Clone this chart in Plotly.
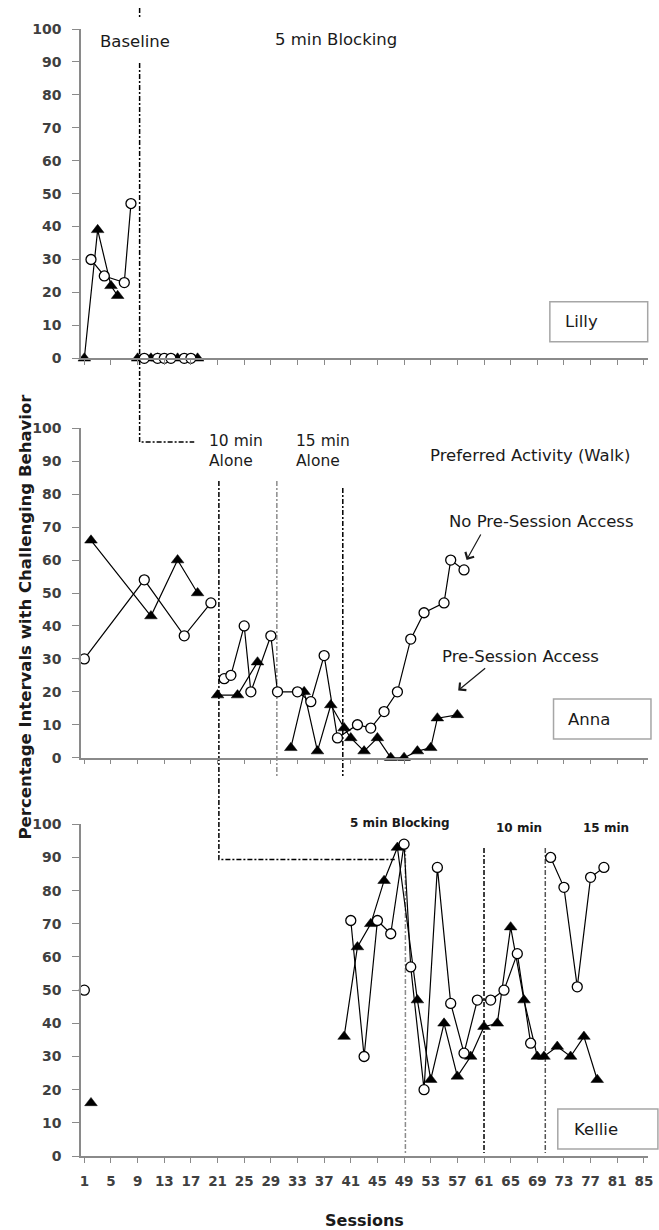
import plotly.graph_objects as go

# ---------------- data ----------------
sessions_ticks_start, sessions_ticks_step = 1, 4

lilly_open_x = [2, 4, 7, 8, None, 10, 12, 13, 14, 16, 17]
lilly_open_y = [30, 25, 23, 47, None, 0, 0, 0, 0, 0, 0]
lilly_fill_x = [1, 3, 5, 6, None, 9, 11, 12, 15, 18]
lilly_fill_y = [0, 39, 22, 19, None, 0, 0, 0, 0, 0]

anna_open_x = [1, 10, 16, 20, None, 22, 23, 25, 26, 29, 30, 33, 35, 37, 39, 42, 44, 46, 48, 50, 52, 55, 56, 58]
anna_open_y = [30, 54, 37, 47, None, 24, 25, 40, 20, 37, 20, 20, 17, 31, 6, 10, 9, 14, 20, 36, 44, 47, 60, 57]
anna_fill_x = [2, 11, 15, 18, None, 21, 24, 27, None, 32, 34, 36, 38, 40, 41, 43, 45, 47, 49, 51, 53, 54, 57]
anna_fill_y = [66, 43, 60, 50, None, 19, 19, 29, None, 3, 20, 2, 16, 9, 6, 2, 6, 0, 0, 2, 3, 12, 13]

kellie_open_x = [1, None, 41, 43, 45, 47, 49, 50, 52, 54, 56, 58, 60, 62, 64, 66, 68, None, 71, 73, 75, 77, 79]
kellie_open_y = [50, None, 71, 30, 71, 67, 94, 57, 20, 87, 46, 31, 47, 47, 50, 61, 34, None, 90, 81, 51, 84, 87]
kellie_fill_x = [2, None, 40, 42, 44, 46, 48, 51, 53, 55, 57, 59, 61, 63, 65, 67, 69, 70, 72, 74, 76, 78]
kellie_fill_y = [16, None, 36, 63, 70, 83, 93, 47, 23, 40, 24, 30, 39, 40, 69, 47, 30, 30, 33, 30, 36, 23]

# phase change positions (session units)
lilly_baseline_end = 9.3
anna_phase = [21.2, 29.9, 39.8]
kellie_phase = [49.2, 61.0, 70.2]

# ---------------- layout geometry ----------------
FW, FH = 659, 1230
L, R, T, B = 81, 6, 29, 74
W = FW - L - R
H = FH - T - B


def px2p(px):
    return (px - L) / W


def py2p(py):
    return (FH - B - py) / H


panel_px = {"top": (358.3, 29.0), "mid": (757.7, 428.3), "bot": (1156.0, 824.3)}

AX = "#8a8a8a"
XTICKF = dict(family="DejaVu Sans", size=13.5, color="#404040", weight="bold")
YTICKF = dict(family="DejaVu Sans", size=14, color="#404040", weight="bold")
TXT = dict(family="DejaVu Sans", size=16.5, color="#1a1a1a")
TXT2 = dict(family="DejaVu Sans", size=15.5, color="#1a1a1a")
BOLDT = dict(family="DejaVu Sans", size=12, color="#1a1a1a", weight="bold")

fig = go.Figure()


def add_series(xs, ys, yaxis, xaxis, kind):
    if kind == "open":
        marker = dict(symbol="circle", size=10, color="white", line=dict(color="black", width=1.3))
    else:
        marker = dict(symbol="triangle-up", size=11, color="black", line=dict(color="black", width=0.5))
    fig.add_trace(go.Scatter(
        x=xs, y=ys, mode="lines+markers", xaxis=xaxis, yaxis=yaxis,
        line=dict(color="black", width=1.2), marker=marker,
        connectgaps=False, cliponaxis=False, showlegend=False, hoverinfo="skip"))


add_series(lilly_fill_x, lilly_fill_y, "y", "x", "fill")
add_series(lilly_open_x, lilly_open_y, "y", "x", "open")
add_series(anna_fill_x, anna_fill_y, "y2", "x2", "fill")
add_series(anna_open_x, anna_open_y, "y2", "x2", "open")
add_series(kellie_fill_x, kellie_fill_y, "y3", "x3", "fill")
add_series(kellie_open_x, kellie_open_y, "y3", "x3", "open")

xr = [0.5, 0.5 + W / 6.72]


def xaxis_cfg(anchor, labels):
    d = dict(range=xr, anchor=anchor, domain=[0, 1], showline=True, linecolor=AX, linewidth=1.5,
             ticks="outside", ticklen=5, tickwidth=1.2, tickcolor=AX, tickmode="linear",
             tick0=sessions_ticks_start, dtick=sessions_ticks_step, showgrid=False, zeroline=False,
             showticklabels=labels, tickfont=XTICKF, ticklabelstandoff=7)
    return d


def yaxis_cfg(anchor, key):
    lo, hi = panel_px[key]
    return dict(range=[0, 100], anchor=anchor, domain=[max(0, py2p(lo)), min(1, py2p(hi))],
                showline=True, linecolor=AX, linewidth=1.5, ticks="outside", ticklen=7,
                tickwidth=1.2, tickcolor=AX, tickmode="linear", tick0=0, dtick=10,
                showgrid=False, zeroline=False, tickfont=YTICKF, ticklabelstandoff=8)


fig.update_layout(
    width=FW, height=FH, margin=dict(l=L, r=R, t=T, b=B),
    paper_bgcolor="white", plot_bgcolor="white",
    xaxis=xaxis_cfg("y", False),
    xaxis2={**xaxis_cfg("y2", False), "matches": "x"},
    xaxis3={**xaxis_cfg("y3", True), "matches": "x"},
    yaxis=yaxis_cfg("x", "top"),
    yaxis2=yaxis_cfg("x2", "mid"),
    yaxis3=yaxis_cfg("x3", "bot"),
)

DASH = "5px,2px,2px,2px"
shapes = []


def pline(path, color="black", width=1.5):
    shapes.append(dict(type="path", xref="x", yref="paper", path=path,
                       line=dict(color=color, width=width, dash=DASH), layer="below"))


xb = lilly_baseline_end
pline(f"M {xb} {py2p(8)} V {py2p(17)} M {xb} {py2p(63)} V {py2p(442)} H 17.5")
pline(f"M {anna_phase[0]} {py2p(481)} V {py2p(859.5)} H 47.6")
pline(f"M {anna_phase[1]} {py2p(481)} V {py2p(776)}", color="#8c8c8c")
pline(f"M {anna_phase[2]} {py2p(488)} V {py2p(776)}")
pline(f"M {kellie_phase[0]} {py2p(847)} V {py2p(1153)}", color="#8c8c8c")
pline(f"M {kellie_phase[1]} {py2p(848)} V {py2p(1153)}")
pline(f"M {kellie_phase[2]} {py2p(848)} V {py2p(1153)}", color="#555555")

# name boxes
for (x0, y0, x1, y1) in [(554, 301.7, 652.7, 341.7), (557.7, 699, 656, 739), (562, 1109, 663, 1149)]:
    shapes.append(dict(type="rect", xref="paper", yref="paper", x0=px2p(x0), x1=px2p(x1),
                       y0=py2p(y1), y1=py2p(y0), line=dict(color="#a6a6a6", width=1.5),
                       fillcolor="white", layer="below"))
fig.update_layout(shapes=shapes)

ann = []


def text(s, px, py, font=TXT, xanchor="left", bg=None, angle=0):
    d = dict(text=s, x=px2p(px), y=py2p(py), xref="paper", yref="paper", showarrow=False,
             xanchor=xanchor, yanchor="middle", font=font, textangle=angle, borderpad=0,
             align="left" if xanchor == "left" else "center")
    if bg:
        d["bgcolor"] = bg
    ann.append(d)


text("Baseline", 99, 42, bg="white")
text("5 min Blocking", 276, 40)
text("10 min<br>Alone", 209, 451, font=TXT2)
text("15 min<br>Alone", 297, 451, font=TXT2)
text("Preferred Activity (Walk)", 432, 455)
text("No Pre-Session Access", 451, 521.7)
text("Pre-Session Access", 444, 656)
text("Lilly", 568, 321.7)
text("Anna", 571, 719)
text("Kellie", 577, 1129)
text("5 min Blocking", 351, 823.3, font=BOLDT)
text("10 min", 499, 828, font=BOLDT)
text("15 min", 586, 828, font=BOLDT)
text("Percentage Intervals with Challenging Behavior", 25, 616,
     font=dict(family="DejaVu Sans", size=16.5, color="#1a1a1a", weight="bold"), xanchor="center", angle=-90)
text("Sessions", 366.7, 1220, font=dict(family="DejaVu Sans", size=16, color="#1a1a1a", weight="bold"),
     xanchor="center")

# arrows
for (tx, ty, hx, hy) in [(485, 533, 470, 560), (490, 667, 461.5, 690.5)]:
    ann.append(dict(text="", x=px2p(hx), y=py2p(hy), xref="paper", yref="paper", showarrow=True,
                    ax=tx - hx, ay=ty - hy, arrowhead=4, arrowsize=1.6, arrowwidth=1.2,
                    arrowcolor="#1a1a1a", standoff=0, startstandoff=0))

fig.update_layout(annotations=ann)

fig.write_html("out.html")
